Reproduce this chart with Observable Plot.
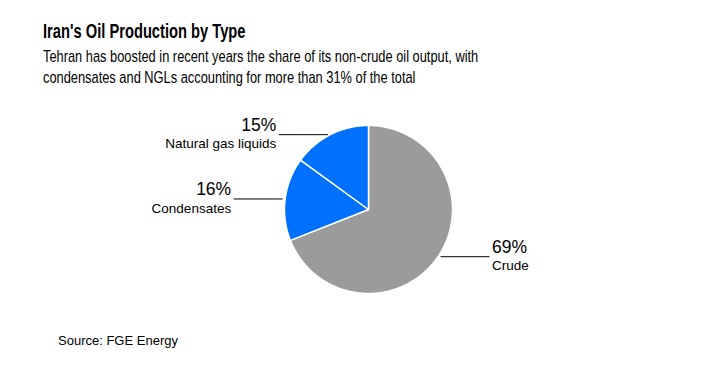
<!DOCTYPE html>
<html><head><meta charset="utf-8">
<script src="https://cdn.jsdelivr.net/npm/d3@7"></script>
<script src="https://cdn.jsdelivr.net/npm/@observablehq/plot@0.6"></script>
<style>
body{margin:0;background:#fff;}
#wrap{position:relative;width:712px;height:365px;overflow:hidden;font-family:"Liberation Sans",Arial,sans-serif;color:#000;}
#title{position:absolute;left:43px;top:21px;font-weight:bold;font-size:20px;line-height:20px;white-space:nowrap;transform:scaleX(0.735);transform-origin:0 0;}
#subtitle{position:absolute;left:43px;top:45.6px;font-size:17px;line-height:21px;white-space:nowrap;transform:scaleX(0.755);transform-origin:0 0;}
#chart{position:absolute;left:0;top:100px;}
#source{position:absolute;left:58px;top:334px;font-size:13px;line-height:13px;white-space:nowrap;}
</style></head>
<body>
<div id="wrap">
  <div id="title">Iran's Oil Production by Type</div>
  <div id="subtitle">Tehran has boosted in recent years the share of its non-crude oil output, with<br>condensates and NGLs accounting for more than 31% of the total</div>
  <div id="chart"></div>
  <div id="source">Source: FGE Energy</div>
</div>
<script>
const types = ["Crude", "Condensates", "Natural gas liquids"];
const shares = [69, 16, 15];
const colors = ["#9b9b9b", "#0070ff", "#0070ff"];
const side = ["right", "left", "left"];

const arcs = d3.pie().sort(null).value(d => d)(shares);

// slice outlines in unit-circle coordinates (y up)
const slicePts = [];
arcs.forEach((a, i) => {
  slicePts.push({type: types[i], x: 0, y: 0});
  const n = Math.max(2, Math.ceil((a.endAngle - a.startAngle) / (Math.PI / 180)));
  for (let k = 0; k <= n; k++) {
    const t = a.startAngle + (a.endAngle - a.startAngle) * k / n;
    slicePts.push({type: types[i], x: Math.sin(t), y: Math.cos(t)});
  }
  slicePts.push({type: types[i], x: 0, y: 0});
});

const gap = 2.5 / 84, len = 49 / 84, tgap = 2.5 / 84;
const labels = arcs.map((a, i) => {
  const m = (a.startAngle + a.endAngle) / 2;
  const s = side[i] === "right" ? 1 : -1;
  const x1 = Math.sin(m) + s * gap, y = Math.cos(m);
  const x2 = x1 + s * len;
  return {type: types[i], pct: shares[i] + "%", x1, x2, y, tx: x2 + s * tgap, anchor: s > 0 ? "start" : "end"};
});

const right = labels.filter(d => d.anchor === "start");
const left = labels.filter(d => d.anchor === "end");

const chart = Plot.plot({
  width: 712,
  height: 220,
  margin: 0,
  x: {domain: [-1, 1], range: [284, 452], axis: null},
  y: {domain: [-1, 1], range: [193, 25], axis: null},
  color: {domain: types, range: colors},
  style: {fontFamily: "'Liberation Sans', Arial, sans-serif", background: "white", overflow: "visible"},
  marks: [
    Plot.line(slicePts, {x: "x", y: "y", z: "type", fill: "type", stroke: "white", strokeWidth: 1.5, strokeLinejoin: "round"}),
    Plot.link(labels, {x1: "x1", x2: "x2", y1: "y", y2: "y", stroke: "black", strokeWidth: 1}),
    Plot.text(right, {x: "tx", y: "y", text: "pct", textAnchor: "start", lineAnchor: "bottom", dy: -3.5, fontSize: 17.5, fill: "black"}),
    Plot.text(left, {x: "tx", y: "y", text: "pct", textAnchor: "end", lineAnchor: "bottom", dy: -3.5, fontSize: 17.5, fill: "black"}),
    Plot.text(right, {x: "tx", y: "y", text: "type", textAnchor: "start", lineAnchor: "top", dy: 4, fontSize: 13.5, fill: "black"}),
    Plot.text(left, {x: "tx", y: "y", text: "type", textAnchor: "end", lineAnchor: "top", dy: 4, fontSize: 13.5, fill: "black"})
  ]
});
document.getElementById("chart").appendChild(chart);
</script>
</body></html>
